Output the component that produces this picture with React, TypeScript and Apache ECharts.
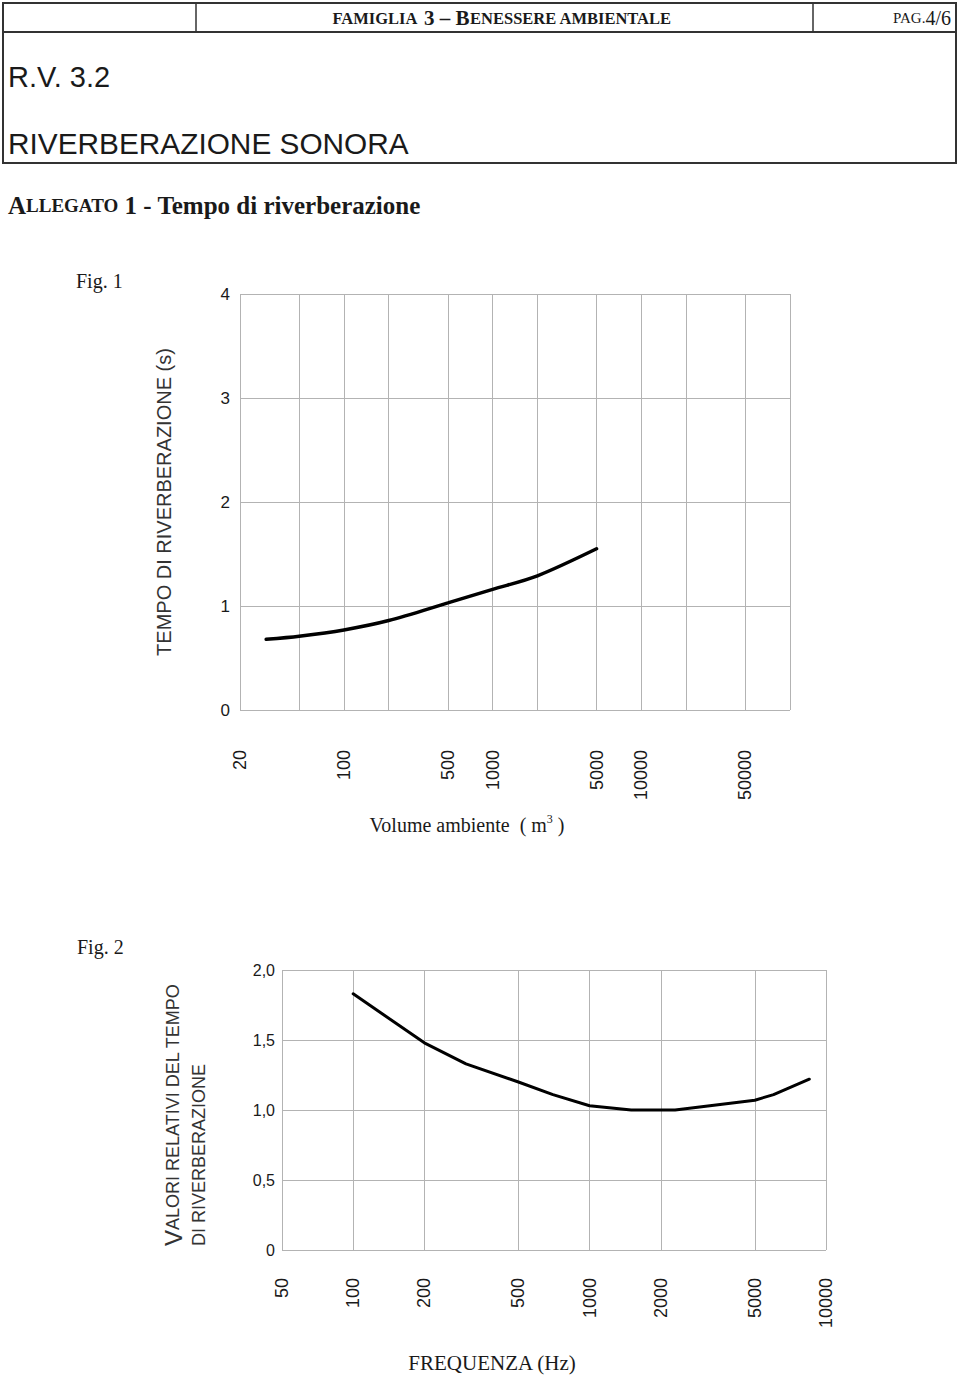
import React, { useEffect, useRef } from "react";
import * as echarts from "echarts";

// ---- Fig. 1 : reverberation time vs room volume ----
const volumes = [30, 50, 100, 200, 500, 1000, 2000, 5000];
const tempi = [0.68, 0.71, 0.77, 0.86, 1.03, 1.16, 1.29, 1.55];
const volumeGrid = [20, 50, 100, 200, 500, 1000, 2000, 5000, 10000, 20000, 50000, 100000];
const volumeLabels = [20, 100, 500, 1000, 5000, 10000, 50000];

// ---- Fig. 2 : relative values vs frequency ----
const frequenze = [100, 200, 300, 500, 700, 1000, 1500, 2300, 5000, 6000, 8500];
const relativi = [1.83, 1.48, 1.33, 1.2, 1.11, 1.03, 1.0, 1.0, 1.07, 1.11, 1.22];
const freqGrid = [50, 100, 200, 500, 1000, 2000, 5000, 10000];
const freqLabels = [50, 100, 200, 500, 1000, 2000, 5000, 10000];

const SANS = "'Liberation Sans', Arial, sans-serif";
const SERIF = "'Liberation Serif', 'Times New Roman', serif";
const GRID_COLOR = "#b3b3b3";
const TEXT = "#1a1a1a";

export default function App() {
  const ref = useRef<HTMLDivElement>(null);

  useEffect(() => {
    if (!ref.current) return;
    const chart = echarts.init(ref.current, null, { renderer: "svg" });

    const xLabel = {
      rotate: 90,
      fontSize: 18,
      fontFamily: SANS,
      color: TEXT,
      formatter: (v: number) => String(Math.round(v)),
    };

    const option: any = {
      animation: false,
      backgroundColor: "#ffffff",
      grid: [
        { left: 240, top: 294, width: 550, height: 416, containLabel: false },
        { left: 282, top: 970, width: 544, height: 280, containLabel: false },
      ],
      xAxis: [
        {
          type: "log",
          logBase: 10,
          gridIndex: 0,
          min: 20,
          max: 100000,
          axisLine: { show: false },
          axisTick: { show: false, customValues: volumeGrid },
          axisLabel: { ...xLabel, margin: 40, customValues: volumeLabels },
          splitLine: { show: true, lineStyle: { color: GRID_COLOR, width: 1 } },
        },
        {
          type: "log",
          logBase: 10,
          gridIndex: 1,
          min: 50,
          max: 10000,
          axisLine: { show: false },
          axisTick: { show: false, customValues: freqGrid },
          axisLabel: { ...xLabel, margin: 28, customValues: freqLabels },
          splitLine: { show: true, lineStyle: { color: GRID_COLOR, width: 1 } },
        },
      ],
      yAxis: [
        {
          type: "value",
          gridIndex: 0,
          min: 0,
          max: 4,
          interval: 1,
          axisLine: { show: false },
          axisTick: { show: false },
          axisLabel: { margin: 10, fontSize: 17, fontFamily: SANS, color: TEXT },
          splitLine: { show: true, lineStyle: { color: GRID_COLOR, width: 1 } },
          name: "TEMPO DI RIVERBERAZIONE (s)",
          nameLocation: "middle",
          nameGap: 66,
          nameRotate: 90,
          nameTextStyle: { fontSize: 20, fontFamily: SANS, color: "#333" },
        },
        {
          type: "value",
          gridIndex: 1,
          min: 0,
          max: 2,
          interval: 0.5,
          axisLine: { show: false },
          axisTick: { show: false },
          axisLabel: {
            margin: 7,
            fontSize: 16,
            fontFamily: SANS,
            color: TEXT,
            formatter: (v: number) => (v === 0 ? "0" : v.toFixed(1).replace(".", ",")),
          },
          splitLine: { show: true, lineStyle: { color: GRID_COLOR, width: 1 } },
        },
      ],
      series: [
        {
          type: "line",
          xAxisIndex: 0,
          yAxisIndex: 0,
          data: volumes.map((v, i) => [v, tempi[i]]),
          symbol: "none",
          smooth: 0.3,
          lineStyle: { color: "#000", width: 3.5, cap: "round" },
        },
        {
          type: "line",
          xAxisIndex: 1,
          yAxisIndex: 1,
          data: frequenze.map((f, i) => [f, relativi[i]]),
          symbol: "none",
          lineStyle: { color: "#000", width: 3, cap: "round", join: "round" },
        },
      ],
      graphic: [
        // header frame
        {
          type: "rect",
          shape: { x: 3, y: 3, width: 953, height: 160 },
          style: { fill: "none", stroke: "#333", lineWidth: 2 },
        },
        { type: "line", shape: { x1: 3, y1: 32, x2: 956, y2: 32 }, style: { stroke: "#333", lineWidth: 2 } },
        { type: "line", shape: { x1: 196, y1: 3, x2: 196, y2: 32 }, style: { stroke: "#333", lineWidth: 1.5 } },
        { type: "line", shape: { x1: 813, y1: 3, x2: 813, y2: 32 }, style: { stroke: "#333", lineWidth: 1.5 } },
        {
          type: "text",
          x: 502,
          y: 18,
          style: {
            text: "{s|FAMIGLIA}  {b|3 – B}{s|ENESSERE AMBIENTALE}",
            textAlign: "center",
            textVerticalAlign: "middle",
            fill: TEXT,
            rich: {
              s: { fontSize: 16.5, fontFamily: SERIF, fontWeight: "bold", fill: TEXT },
              b: { fontSize: 21, fontFamily: SERIF, fontWeight: "bold", fill: TEXT },
            },
          },
        },
        {
          type: "text",
          x: 951,
          y: 18,
          style: {
            text: "{s|PAG.}{b|4/6}",
            textAlign: "right",
            textVerticalAlign: "middle",
            fill: TEXT,
            rich: {
              s: { fontSize: 15, fontFamily: SERIF, fill: TEXT },
              b: { fontSize: 20, fontFamily: SERIF, fill: TEXT },
            },
          },
        },
        {
          type: "text",
          x: 8,
          y: 77,
          style: { text: "R.V. 3.2", fontSize: 29, fontFamily: SANS, fill: TEXT, textAlign: "left", textVerticalAlign: "middle" },
        },
        {
          type: "text",
          x: 8,
          y: 143,
          style: {
            text: "RIVERBERAZIONE SONORA",
            fontSize: 29.8,
            fontFamily: SANS,
            fill: TEXT,
            textAlign: "left",
            textVerticalAlign: "middle",
          },
        },
        {
          type: "text",
          x: 8,
          y: 205,
          style: {
            text: "{b|A}{s|LLEGATO}{b| 1 - Tempo di riverberazione}",
            textAlign: "left",
            textVerticalAlign: "middle",
            fill: TEXT,
            rich: {
              b: { fontSize: 25, fontFamily: SERIF, fontWeight: "bold", fill: TEXT },
              s: { fontSize: 19, fontFamily: SERIF, fontWeight: "bold", fill: TEXT },
            },
          },
        },
        {
          type: "text",
          x: 76,
          y: 281,
          style: { text: "Fig. 1", fontSize: 20, fontFamily: SERIF, fill: TEXT, textAlign: "left", textVerticalAlign: "middle" },
        },
        {
          type: "text",
          x: 77,
          y: 947,
          style: { text: "Fig. 2", fontSize: 20, fontFamily: SERIF, fill: TEXT, textAlign: "left", textVerticalAlign: "middle" },
        },
        {
          type: "text",
          x: 467,
          y: 825,
          style: {
            text: "{n|Volume ambiente  ( m}{sup|3}{n| )}",
            textAlign: "center",
            textVerticalAlign: "middle",
            fill: TEXT,
            rich: {
              n: { fontSize: 20, fontFamily: SERIF, fill: TEXT },
              sup: { fontSize: 12, fontFamily: SERIF, fill: TEXT, padding: [0, 0, 12, 0] },
            },
          },
        },
        {
          type: "text",
          x: 492,
          y: 1363,
          style: { text: "FREQUENZA (Hz)", fontSize: 21, fontFamily: SERIF, fill: TEXT, textAlign: "center", textVerticalAlign: "middle" },
        },
        {
          type: "text",
          x: 173,
          y: 1246,
          rotation: Math.PI / 2,
          style: {
            text: "{b|V}{s|ALORI RELATIVI DEL TEMPO}",
            textAlign: "left",
            textVerticalAlign: "middle",
            fill: "#333",
            rich: {
              b: { fontSize: 24, fontFamily: SANS, fill: "#333" },
              s: { fontSize: 18, fontFamily: SANS, fill: "#333" },
            },
          },
        },
        {
          type: "text",
          x: 199,
          y: 1246,
          rotation: Math.PI / 2,
          style: {
            text: "DI RIVERBERAZIONE",
            fontSize: 18,
            fontFamily: SANS,
            fill: "#333",
            textAlign: "left",
            textVerticalAlign: "middle",
          },
        },
      ],
    };

    chart.setOption(option);
    return () => chart.dispose();
  }, []);

  return (
    <div
      ref={ref}
      style={{ position: "absolute", left: 0, top: 0, width: 960, height: 1377, background: "#fff" }}
    />
  );
}
